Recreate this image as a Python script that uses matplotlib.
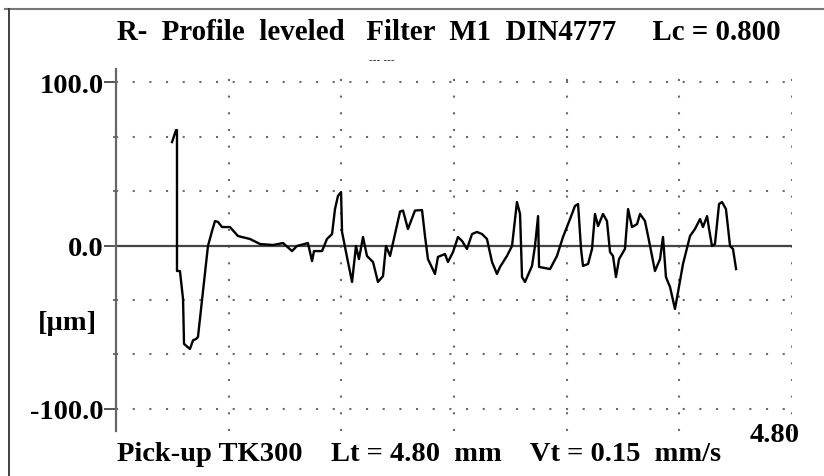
import matplotlib
matplotlib.use("Agg")
import matplotlib.pyplot as plt
from matplotlib.lines import Line2D

# R-profile trace: position [mm], height [um]
x_mm = [0.398, 0.426, 0.433, 0.433, 0.454, 0.476, 0.483, 0.525, 0.547, 0.568,
        0.582, 0.653, 0.682, 0.703, 0.724, 0.753, 0.809, 0.866, 0.951, 1.023,
        1.115, 1.186, 1.250, 1.285, 1.363, 1.392, 1.406, 1.463, 1.498, 1.534,
        1.555, 1.576, 1.598, 1.605, 1.640, 1.676, 1.704, 1.725, 1.754, 1.782,
        1.825, 1.860, 1.896, 1.917, 1.946, 1.981, 2.017, 2.038, 2.073, 2.123,
        2.173, 2.194, 2.215, 2.265, 2.286, 2.336, 2.357, 2.393, 2.428, 2.457,
        2.492, 2.528, 2.563, 2.599, 2.634, 2.670, 2.705, 2.727, 2.776, 2.812,
        2.847, 2.869, 2.883, 2.904, 2.954, 2.975, 2.997, 3.004, 3.082, 3.131,
        3.174, 3.224, 3.259, 3.281, 3.302, 3.316, 3.352, 3.380, 3.401, 3.423,
        3.458, 3.486, 3.508, 3.529, 3.550, 3.572, 3.614, 3.636, 3.664, 3.700,
        3.721, 3.756, 3.785, 3.827, 3.863, 3.884, 3.905, 3.934, 3.969, 3.991,
        4.026, 4.076, 4.111, 4.147, 4.168, 4.197, 4.211, 4.232, 4.253, 4.282,
        4.303, 4.331, 4.360, 4.381, 4.403]
z_um = [63.3, 70.6, 70.6, -15.6, -15.6, -32.7, -60.2, -63.3, -58.0, -57.2,
        -56.0, -0.3, 8.9, 15.0, 14.4, 11.3, 11.3, 5.8, 4.0, 0.9,
        0.3, 1.5, -3.4, -0.3, 1.5, -9.5, -3.4, -3.4, 4.0, 7.0,
        22.3, 30.3, 32.7, 8.3, -7.0, -22.3, -0.3, -8.3, 5.2, -6.4,
        -10.1, -22.3, -18.7, -0.3, -6.4, 7.0, 20.8, 21.4, 10.1, 21.4,
        21.7, 5.8, -8.3, -17.4, -7.0, -5.2, -10.1, -4.0, 5.2, 2.8,
        -2.1, 7.0, 8.3, 7.0, 4.0, -10.1, -17.4, -13.1, -6.4, -0.3,
        26.6, 19.3, -19.3, -22.3, -12.5, -0.3, 18.0, -13.1, -14.4, -6.4,
        5.2, 16.2, 24.2, 25.4, -2.1, -12.5, -11.3, -2.1, 19.3, 11.9,
        19.3, 15.0, -4.0, -6.4, -19.3, -8.3, -2.1, 22.3, 11.3, 13.1,
        19.3, 15.0, 2.8, -15.6, -8.3, 5.2, -19.3, -25.4, -38.8, -28.4,
        -11.3, 5.8, 10.1, 16.2, 11.3, 18.0, 10.1, -0.3, 0.9, 25.4,
        26.6, 22.3, -0.3, -2.1, -14.4]

y_major = [-100.0, 0.0, 100.0]
y_labels = ["-100.0", "0.0", "100.0"]
y_grid = [-100.0, -66.67, -33.33, 33.33, 66.67, 100.0]
x_grid = [0.8, 1.6, 2.4, 3.2, 4.0, 4.8]
x_end = 4.80

title = "R-  Profile  leveled   Filter  M1  DIN4777     Lc = 0.800"
footer = "Pick-up TK300    Lt = 4.80  mm    Vt = 0.15  mm/s"

font = {"family": "Liberation Serif", "weight": "bold", "size": 20.5}
W, H = 824, 477

fig = plt.figure(figsize=(W / 100, H / 100), dpi=100)
ax = fig.add_axes([116 / W, 1 - 432 / H, 676 / W, 362 / H])
ax.set_xlim(0, 4.8)
ax.set_ylim(-113.5, 108.0)

for s in ["top", "right", "bottom"]:
    ax.spines[s].set_visible(False)
ax.spines["left"].set_color("#666666")
ax.spines["left"].set_linewidth(1.6)

# dotted grid
for g in y_grid:
    ax.axhline(g, color="#6a6a6a", lw=1.5, ls=(0, (1, 7)), zorder=1)
for g in x_grid:
    ax.axvline(g, color="#6a6a6a", lw=1.5, ls=(0, (1, 7)), zorder=1)
# zero reference line
ax.axhline(0, color="#444444", lw=1.6, zorder=2)

ax.plot(x_mm, z_um, color="black", lw=1.7, zorder=3)

ax.set_xticks([])
ax.set_yticks(y_major)
ax.set_yticklabels(y_labels, fontdict=font)
ax.set_yticks(y_grid, minor=True)
ax.tick_params(axis="y", which="major", length=9, width=1.4, color="#555555", pad=0)
ax.tick_params(axis="y", which="minor", length=2, width=1.2, color="#555555")

ax.text(-0.135, -47, "[\u00b5m]", ha="right", va="center", fontdict=font)
ax.annotate(f"{x_end:.2f}", xy=(x_end, -100), xytext=(8, -32),
            textcoords="offset pixels", ha="right", va="baseline",
            fontsize=font["size"], family=font["family"], weight="bold",
            annotation_clip=False)

fig.text(117 / W, 1 - 40 / H, title, ha="left", va="baseline",
         family=font["family"], weight="bold", size=20.8)
fig.text(369 / W, 1 - 63 / H, "--- ---", ha="left", va="baseline",
         fontsize=7.5, family="DejaVu Sans", color="#222222")
fig.text(117 / W, 1 - 461 / H, footer, ha="left", va="baseline", fontdict=font)

# outer frame
fig.add_artist(Line2D([5 / W, 1], [1 - 10 / H, 1 - 10 / H], color="#777777", lw=1.5))
fig.add_artist(Line2D([9 / W, 9 / W], [0, 1 - 10 / H], color="#333333", lw=1.3))

fig.savefig("out.png", dpi=100)
